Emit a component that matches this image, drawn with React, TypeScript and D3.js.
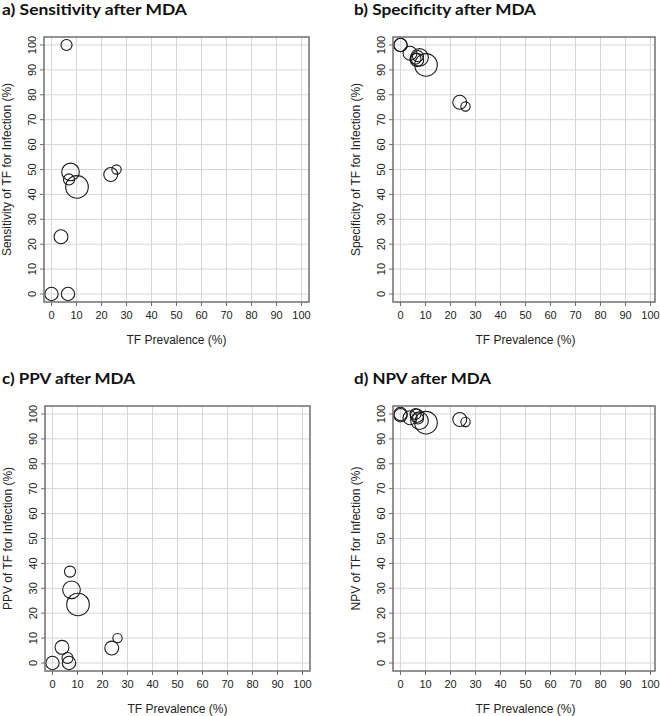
import React from "react";
import * as d3 from "d3";

// one entry per study community (TF prevalence, sample size, test metrics in %)
const prevalence = [0, 0, 3.8, 6.0, 6.6, 7.0, 7.6, 10.2, 23.7, 26.0];
const sampleSize = [35, 35, 38, 24, 35, 24, 61, 100, 38, 17];
const sensitivity = [0, null, 23, 100, 0, 46, 49, 43, 48, 50];
const specificity = [100, 100, 96.7, 94.5, 94, 95.5, 95, 92, 77, 75.3];
const ppv = [0, null, 6.3, 2, 0, 36.7, 29.4, 23.5, 6, 10];
const npv = [99.5, 100, 98.5, 100, 99.3, 98.2, 97.3, 96.5, 97.8, 96.8];

const tickValues = [0, 10, 20, 30, 40, 50, 60, 70, 80, 90, 100];
const xLabel = "TF Prevalence (%)";

const panels = [
  { title: "a) Sensitivity after MDA", yLabel: "Sensitivity of TF for Infection (%)", values: sensitivity, left: 44, top: 37, right: 309, titleX: 2, titleLen: 185 },
  { title: "b) Specificity after MDA", yLabel: "Specificity of TF for Infection (%)", values: specificity, left: 393, top: 37, right: 655, titleX: 354, titleLen: 182 },
  { title: "c) PPV after MDA", yLabel: "PPV of TF for Infection (%)", values: ppv, left: 45, top: 406, right: 310, titleX: 2, titleLen: 133 },
  { title: "d) NPV after MDA", yLabel: "NPV of TF for Infection (%)", values: npv, left: 393, top: 406, right: 655, titleX: 354, titleLen: 137 },
];

const radius = d3.scaleSqrt().domain([0, 100]).range([0, 11.3]);
const axisFont = "'Liberation Sans', Arial, Helvetica, sans-serif";
const boxColor = "#6f6f6f";

function Panel({ p }) {
  const x0 = p.left + 7.5;
  const x = d3.scaleLinear().domain([0, 100]).range([x0, x0 + 250]);
  const y = d3.scaleLinear().domain([0, 100]).range([p.top + 257, p.top + 8]);
  const bottom = p.top + 265;
  const pts = prevalence
    .map((v, i) => ({ px: v, val: p.values[i], n: sampleSize[i] }))
    .filter(d => d.val !== null);

  return (
    <g>
      <text x={p.titleX} y={p.top - 22} fontFamily="Lato, 'Open Sans', sans-serif" fontWeight="bold" fontSize={16}
        textLength={p.titleLen} lengthAdjust="spacingAndGlyphs" fill="#111">{p.title}</text>

      {/* grid */}
      {tickValues.map(t => (
        <line key={"gx" + t} x1={x(t)} x2={x(t)} y1={p.top} y2={bottom} stroke="#d6d6d6" strokeWidth={1} />
      ))}
      {tickValues.map(t => (
        <line key={"gy" + t} x1={p.left} x2={p.right} y1={y(t)} y2={y(t)} stroke="#d6d6d6" strokeWidth={1} />
      ))}

      {/* points */}
      {pts.map((d, i) => (
        <circle key={i} cx={x(d.px)} cy={y(d.val)} r={radius(d.n)} fill="none" stroke="#1a1a1a" strokeWidth={1.1} />
      ))}

      <rect x={p.left} y={p.top} width={p.right - p.left} height={bottom - p.top} fill="none" stroke={boxColor} strokeWidth={1.5} />

      {/* x axis */}
      {tickValues.map(t => (
        <g key={"tx" + t}>
          <line x1={x(t)} x2={x(t)} y1={bottom} y2={bottom + 4} stroke={boxColor} />
          <text x={x(t)} y={bottom + 12.5} textAnchor="middle" dominantBaseline="central" fontFamily={axisFont} fontSize={11} fill="#222">{t}</text>
        </g>
      ))}
      <text x={(x(0) + x(100)) / 2} y={bottom + 38} textAnchor="middle" dominantBaseline="central" fontFamily={axisFont} fontSize={12} fill="#222">{xLabel}</text>

      {/* y axis */}
      {tickValues.map(t => (
        <g key={"ty" + t}>
          <line x1={p.left - 4} x2={p.left} y1={y(t)} y2={y(t)} stroke={boxColor} />
          <text transform={`translate(${p.left - 12.5},${y(t)}) rotate(-90)`} textAnchor="middle" dominantBaseline="central"
            fontFamily={axisFont} fontSize={11} fill="#222">{t}</text>
        </g>
      ))}
      <text transform={`translate(${p.left - 37},${(y(0) + y(100)) / 2}) rotate(-90)`} textAnchor="middle" dominantBaseline="central"
        fontFamily={axisFont} fontSize={12} fill="#222">{p.yLabel}</text>
    </g>
  );
}

export default function App() {
  return (
    <svg width={660} height={716} style={{ position: "absolute", left: 0, top: 0, background: "#fff" }}>
      <rect width={660} height={716} fill="#fff" />
      {panels.map(p => <Panel key={p.title} p={p} />)}
    </svg>
  );
}
